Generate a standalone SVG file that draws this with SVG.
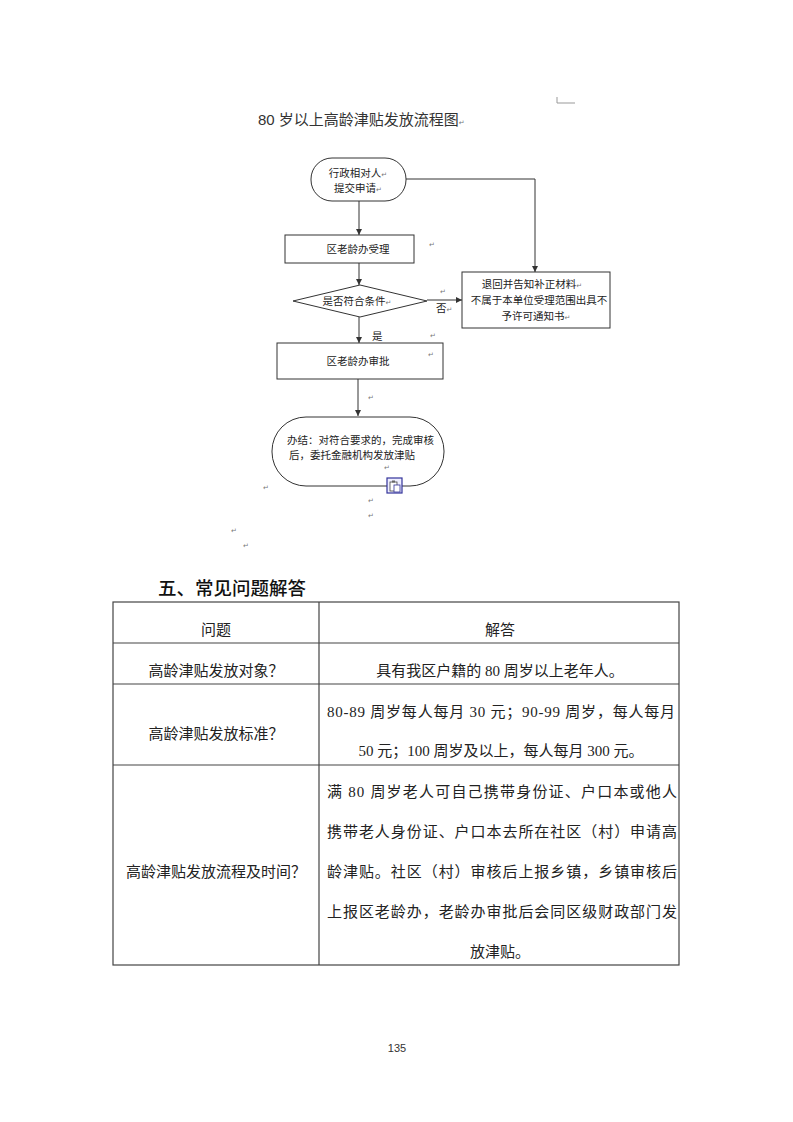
<svg xmlns="http://www.w3.org/2000/svg" width="793" height="1122" viewBox="0 0 793 1122">
<defs>
<marker id="arr" viewBox="0 0 10 10" refX="10" refY="5" markerWidth="6" markerHeight="6" orient="auto" markerUnits="userSpaceOnUse">
<path d="M0,0 L10,5 L0,10 z" fill="#333"/>
</marker>
<style>
.fc{font-family:"Noto Sans CJK SC","Noto Sans",sans-serif;font-size:10.5px;fill:#222;}
.ttl{font-family:"Liberation Sans","Noto Sans CJK SC",sans-serif;font-size:15px;fill:#333;}
.shape{fill:#fff;stroke:#333;stroke-width:1;}
.ln{fill:none;stroke:#333;stroke-width:1;}
.rm{font-family:"DejaVu Sans",sans-serif;font-size:7px;fill:#777;}
.tb{font-family:"Liberation Serif","Noto Sans CJK SC",serif;font-size:15px;fill:#222;}
.grid{fill:none;stroke:#444;stroke-width:1.2;}
.hd{font-family:"Noto Sans CJK SC",sans-serif;font-size:18.5px;fill:#111;font-weight:500;}
</style>
</defs>
<rect width="793" height="1122" fill="#fff"/>

<!-- corner mark -->
<path d="M557,97 L557,103 L575,103" fill="none" stroke="#999" stroke-width="1"/>

<text class="ttl" x="258" y="125">80 岁以上高龄津贴发放流程图<tspan class="rm">↵</tspan></text>

<g id="connectors">
<line class="ln" x1="359" y1="201" x2="359" y2="235" marker-end="url(#arr)"/>
<polyline class="ln" points="406,179 535,179 535,272" marker-end="url(#arr)"/>
<line class="ln" x1="359" y1="263" x2="359" y2="285" marker-end="url(#arr)"/>
<line class="ln" x1="427" y1="300" x2="462" y2="300" marker-end="url(#arr)"/>
<line class="ln" x1="359" y1="317" x2="359" y2="343" marker-end="url(#arr)"/>
<line class="ln" x1="358" y1="379" x2="358" y2="416" marker-end="url(#arr)"/>
<text class="fc" x="436" y="312">否<tspan class="rm">↵</tspan></text>
<text class="rm" x="440" y="294">↵</text>
<text class="fc" x="372" y="340">是</text>
<text class="rm" x="430" y="338">↵</text>
</g>

<g id="start">
<rect class="shape" x="311" y="158" width="95" height="43" rx="21" ry="21"/>
<text class="fc" x="358" y="177" text-anchor="middle">行政相对人<tspan class="rm">↵</tspan></text>
<text class="fc" x="358" y="192" text-anchor="middle">提交申请<tspan class="rm">↵</tspan></text>
</g>

<g id="accept">
<rect class="shape" x="285" y="235" width="129" height="28"/>
<text class="fc" x="358" y="253" text-anchor="middle">区老龄办受理</text>
<text class="rm" x="429" y="247">↵</text>
</g>

<g id="decision">
<polygon class="shape" points="293,301 360,285 427,301 360,317"/>
<text class="fc" x="357" y="305" text-anchor="middle">是否符合条件<tspan class="rm">↵</tspan></text>
</g>

<g id="reject">
<rect class="shape" x="462" y="272" width="148" height="56"/>
<text class="fc" x="532" y="288" text-anchor="middle">退回并告知补正材料<tspan class="rm">↵</tspan></text>
<text class="fc" x="539" y="304" text-anchor="middle">不属于本单位受理范围出具不</text>
<text class="fc" x="536" y="320" text-anchor="middle">予许可通知书<tspan class="rm">↵</tspan></text>
</g>

<g id="approve">
<rect class="shape" x="277" y="343" width="166" height="36"/>
<text class="fc" x="358" y="365" text-anchor="middle">区老龄办审批</text>
<text class="rm" x="428" y="357">↵</text>
<text class="rm" x="368" y="400">↵</text>
</g>

<g id="end">
<rect class="shape" x="272" y="417" width="172" height="69" rx="34" ry="34"/>
<text class="fc" x="287" y="444">办结：对符合要求的，完成审核</text>
<text class="fc" x="289" y="459">后，委托金融机构发放津贴</text>
<text class="rm" x="384" y="470">↵</text>
<rect x="387" y="478" width="15" height="15" fill="#eef" stroke="#33339a" stroke-width="1.2"/>
<rect x="390" y="482" width="7" height="9" fill="#fff" stroke="#444" stroke-width="0.8"/>
<rect x="392" y="480.5" width="3" height="2" fill="#666"/>
<rect x="394" y="485" width="6" height="7" fill="#fff" stroke="#33339a" stroke-width="0.8"/>
</g>

<text class="rm" x="263" y="490">↵</text>
<text class="rm" x="368" y="503">↵</text>
<text class="rm" x="368" y="518">↵</text>
<text class="rm" x="231" y="533">↵</text>
<text class="rm" x="243" y="548">↵</text>

<text class="hd" x="158" y="595">五、常见问题解答</text>

<g id="table">
<rect class="grid" x="113" y="602" width="566" height="363"/>
<line class="grid" x1="319" y1="602" x2="319" y2="965"/>
<line class="grid" x1="113" y1="643" x2="679" y2="643"/>
<line class="grid" x1="113" y1="684" x2="679" y2="684"/>
<line class="grid" x1="113" y1="765" x2="679" y2="765"/>

<text class="tb" x="216" y="635" text-anchor="middle">问题</text>
<text class="tb" x="500" y="635" text-anchor="middle">解答</text>

<text class="tb" x="216" y="676" text-anchor="middle">高龄津贴发放对象？</text>
<text class="tb" x="500" y="676" text-anchor="middle">具有我区户籍的 80 周岁以上老年人。</text>

<text class="tb" x="216" y="739" text-anchor="middle">高龄津贴发放标准？</text>
<text class="tb" x="327" y="717" textLength="348" lengthAdjust="spacing">80-89 周岁每人每月 30 元；90-99 周岁，每人每月</text>
<text class="tb" x="501" y="756" text-anchor="middle">50 元；100 周岁及以上，每人每月 300 元。</text>

<text class="tb" x="216" y="877" text-anchor="middle">高龄津贴发放流程及时间？</text>
<text class="tb" x="327" y="797" textLength="350" lengthAdjust="spacing">满 80 周岁老人可自己携带身份证、户口本或他人</text>
<text class="tb" x="327" y="837" textLength="350" lengthAdjust="spacing">携带老人身份证、户口本去所在社区（村）申请高</text>
<text class="tb" x="327" y="877" textLength="350" lengthAdjust="spacing">龄津贴。社区（村）审核后上报乡镇，乡镇审核后</text>
<text class="tb" x="327" y="917" textLength="350" lengthAdjust="spacing">上报区老龄办，老龄办审批后会同区级财政部门发</text>
<text class="tb" x="500" y="957" text-anchor="middle">放津贴。</text>
</g>

<text x="397" y="1052" text-anchor="middle" font-family="Liberation Sans, sans-serif" font-size="11" fill="#333">135</text>
</svg>
